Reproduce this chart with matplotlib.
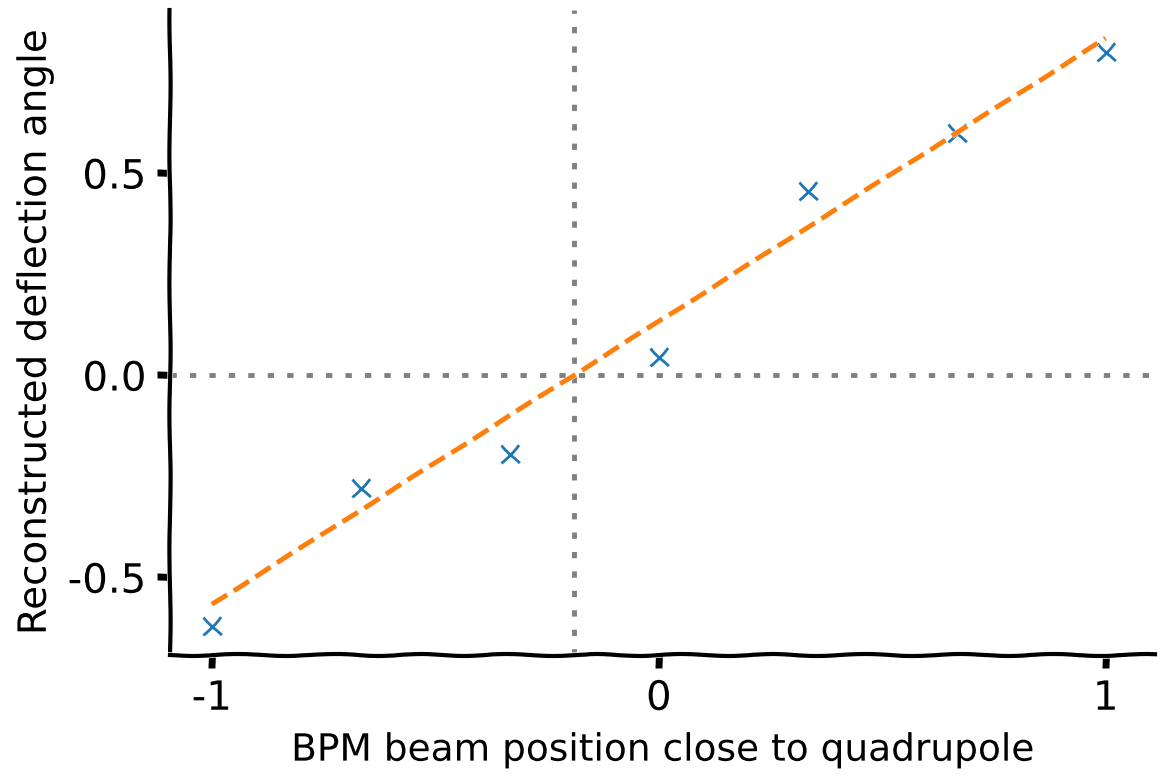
import numpy as np
import matplotlib
matplotlib.use("Agg")
import matplotlib.pyplot as plt

# data
bpm_position = [-1.0, -2/3, -1/3, 0.0, 1/3, 2/3, 1.0]
deflection = [-0.62, -0.28, -0.196, 0.045, 0.455, 0.60, 0.80]
fit_slope = 0.70
fit_intercept = 0.133
x_ticks = [-1, 0, 1]
y_ticks = [-0.5, 0.0, 0.5]

with plt.xkcd(scale=1, length=100, randomness=2):
    plt.rcParams['font.family'] = ['DejaVu Sans']
    fig = plt.figure(figsize=(11.63, 7.79), dpi=100)
    ax = fig.add_axes([0.146, 0.159, 0.847, 0.828])

    xfit = np.array([bpm_position[0], bpm_position[-1]])
    yfit = fit_slope * xfit + fit_intercept
    x0 = -fit_intercept / fit_slope

    dot_style = (0, (1.3, 2.7))
    h = ax.axhline(0, color='gray', linestyle=dot_style, linewidth=3.5, dash_capstyle='butt')
    v = ax.axvline(x0, color='gray', linestyle=dot_style, linewidth=3.5, dash_capstyle='butt')
    ax.plot(bpm_position, deflection, 'x', color='#1f77b4', markersize=13, markeredgewidth=2)
    f, = ax.plot(xfit, yfit, '--', color='#ff7f0e', linewidth=3.5)
    for ln in (h, v):
        ln.set_sketch_params(None)
    f.set_sketch_params(scale=0.4, length=150, randomness=2)

    ax.set_xlim(-1.094, 1.11)
    ax.set_ylim(-0.693, 0.903)
    ax.set_xticks(x_ticks)
    ax.set_xticklabels(['-1', '0', '1'])
    ax.set_yticks(y_ticks)
    ax.set_yticklabels(['-0.5', '0.0', '0.5'])
    ax.spines['top'].set_visible(False)
    ax.spines['right'].set_visible(False)
    ax.spines['left'].set_linewidth(3)
    ax.spines['bottom'].set_linewidth(3)
    ax.spines['left'].set_sketch_params(scale=0.6, length=150, randomness=2)
    ax.tick_params(axis='both', direction='out', length=9, width=5, labelsize=29, pad=8)
    ax.set_xlabel('BPM beam position close to quadrupole', fontsize=27, labelpad=10)
    ax.set_ylabel('Reconstructed deflection angle', fontsize=28, labelpad=10)

    fig.savefig('out.png', dpi=100)
